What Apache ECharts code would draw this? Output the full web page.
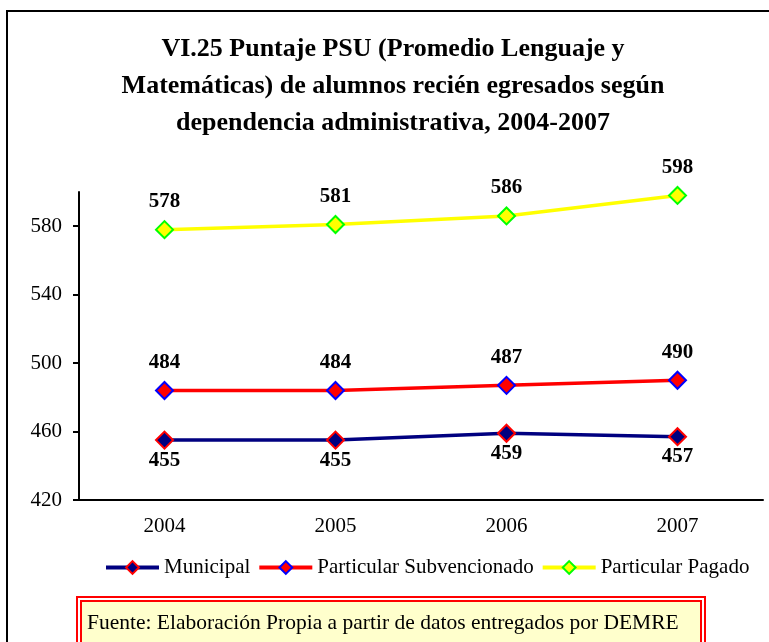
<!DOCTYPE html>
<html>
<head>
<meta charset="utf-8">
<script src="https://cdn.jsdelivr.net/npm/echarts@6/dist/echarts.min.js"></script>
<style>
  html, body { margin: 0; padding: 0; background: #fff; }
  #chart { width: 769px; height: 642px; }
</style>
</head>
<body>
<div id="chart"></div>
<script>
  // datos
  var years = ['2004', '2005', '2006', '2007'];
  var municipal = [455, 455, 459, 457];
  var subvencionado = [484, 484, 487, 490];
  var pagado = [578, 581, 586, 598];
  var yTicks = [420, 460, 500, 540, 580];

  var serif = "'Liberation Serif', 'Times New Roman', serif";

  var chart = echarts.init(document.getElementById('chart'));

  // crea una serie de línea con marcador rombo
  function makeLine(name, data, lineColor, fill, border, pos, dist) {
    return {
      name: name,
      type: 'line',
      data: data,
      symbol: 'diamond',
      symbolSize: 17,
      lineStyle: { color: lineColor, width: 3.5 },
      itemStyle: { color: fill, borderColor: border, borderWidth: 2 },
      label: {
        show: true,
        position: pos,
        distance: dist,
        color: '#000',
        fontFamily: serif,
        fontWeight: 'bold',
        fontSize: 21
      },
      emphasis: { disabled: true },
      animation: false
    };
  }

  chart.setOption({
    animation: false,
    title: {
      text: 'VI.25 Puntaje PSU (Promedio Lenguaje y\nMatemáticas) de alumnos recién egresados según\ndependencia administrativa, 2004-2007',
      left: 388,
      textAlign: 'center',
      top: 26,
      textStyle: {
        fontFamily: serif,
        fontWeight: 'bold',
        fontSize: 26,
        lineHeight: 37,
        color: '#000'
      }
    },
    legend: {
      left: 99,
      top: 552,
      itemWidth: 53,
      itemHeight: 16,
      itemGap: 7,
      lineStyle: { width: 4 },
      textStyle: { fontFamily: serif, fontSize: 21, color: '#000' },
      data: ['Municipal', 'Particular Subvencionado', 'Particular Pagado']
    },
    grid: { left: 79, right: 6, top: 192, bottom: 142 },
    xAxis: {
      type: 'category',
      data: years,
      boundaryGap: true,
      axisLine: { lineStyle: { color: '#000', width: 2 } },
      axisTick: { length: 6, lineStyle: { color: '#000', width: 2 } },
      axisLabel: { margin: 16, fontFamily: serif, fontSize: 21, color: '#000' }
    },
    yAxis: {
      type: 'value',
      min: 420,
      max: 600,
      interval: 40,
      splitLine: { show: false },
      axisLine: { show: true, lineStyle: { color: '#000', width: 2 } },
      axisTick: { show: true, length: 6, customValues: yTicks, lineStyle: { color: '#000', width: 2 } },
      axisLabel: { margin: 17, customValues: yTicks, fontFamily: serif, fontSize: 21, color: '#000' }
    },
    graphic: [
      {
        type: 'rect',
        shape: { x: 7, y: 11, width: 800, height: 700 },
        style: { fill: 'none', stroke: '#000', lineWidth: 2 },
        silent: true
      },
      {
        type: 'rect',
        shape: { x: 77, y: 597, width: 628, height: 80 },
        style: { fill: '#fff', stroke: '#ff0000', lineWidth: 2 },
        silent: true
      },
      {
        type: 'rect',
        shape: { x: 81, y: 601, width: 620, height: 80 },
        style: { fill: '#ffffcc', stroke: '#ff0000', lineWidth: 2 },
        silent: true
      },
      {
        type: 'text',
        x: 87,
        y: 623,
        style: {
          text: 'Fuente: Elaboración Propia a partir de datos entregados por DEMRE',
          font: "21.5px 'Liberation Serif', 'Times New Roman', serif",
          fill: '#000',
          verticalAlign: 'middle'
        },
        silent: true
      }
    ],
    series: [
      makeLine('Municipal', municipal, '#000080', '#000080', '#ff0000', 'bottom', 0),
      makeLine('Particular Subvencionado', subvencionado, '#ff0000', '#ff0000', '#0000ff', 'top', 8),
      makeLine('Particular Pagado', pagado, '#ffff00', '#ffff00', '#00ff00', 'top', 8)
    ]
  });
</script>
</body>
</html>
